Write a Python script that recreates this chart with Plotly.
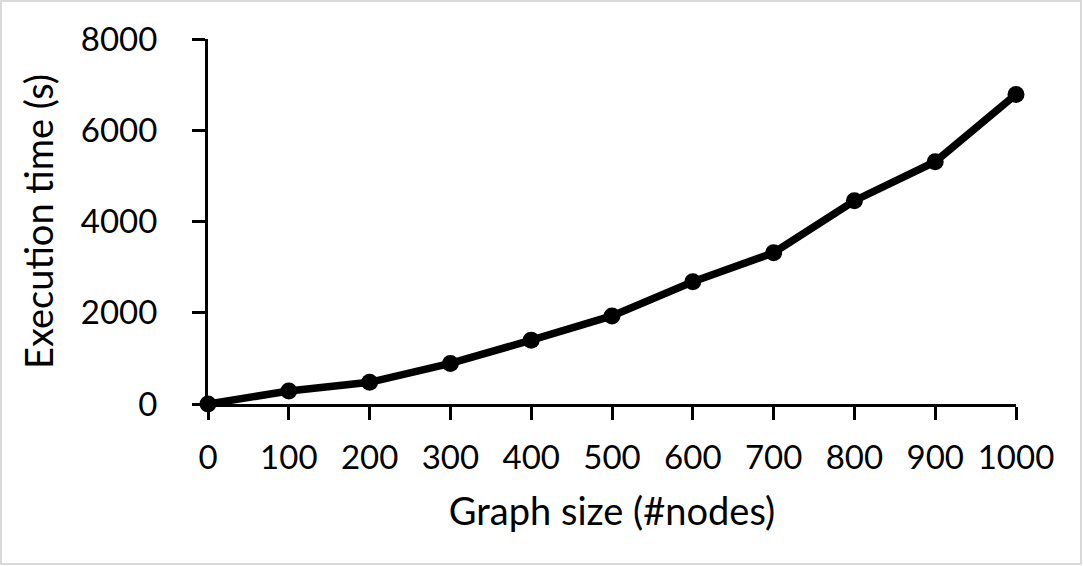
import plotly.graph_objects as go

graph_size = [0, 100, 200, 300, 400, 500, 600, 700, 800, 900, 1000]
exec_time = [0, 285, 475, 890, 1400, 1930, 2680, 3315, 4455, 5310, 6785]
x_ticks = [0, 100, 200, 300, 400, 500, 600, 700, 800, 900, 1000]
y_ticks = [0, 2000, 4000, 6000, 8000]

W, H = 1083, 566
ml, mr, mt, mb = 208, 67, 39, 162
pw, ph = W - ml - mr, H - mt - mb

fig = go.Figure()
fig.add_trace(go.Scatter(
    x=graph_size, y=exec_time, mode="lines+markers",
    line=dict(color="black", width=7.5),
    marker=dict(color="black", size=17),
    cliponaxis=False, showlegend=False,
))

font = dict(family="Lato, Open Sans, sans-serif", size=33, color="black")
tfont = dict(family="Lato, Open Sans, sans-serif", size=38, color="black")
fig.update_layout(
    width=W, height=H,
    margin=dict(l=ml, r=mr, t=mt, b=mb),
    paper_bgcolor="white", plot_bgcolor="white",
    font=font,
    xaxis=dict(
        range=[0, 1000], tickvals=x_ticks, ticks="outside", ticklen=13, tickwidth=3,
        tickcolor="black", showline=True, linewidth=3, linecolor="black",
        showgrid=False, zeroline=False, ticklabelstandoff=9, automargin=False,
        title=dict(text="Graph size (#nodes)", font=tfont, standoff=24),
    ),
    yaxis=dict(
        range=[0, 8000], tickvals=y_ticks, ticks="outside", ticklen=13, tickwidth=3,
        tickcolor="black", showline=True, linewidth=3, linecolor="black",
        showgrid=False, zeroline=False, ticklabelstandoff=28, automargin=False,
        title=dict(text="Execution time (s)", font=tfont, standoff=16),
    ),
    shapes=[dict(
        type="rect", xref="paper", yref="paper",
        x0=-(ml - 1) / pw, x1=1 + (mr - 2) / pw,
        y0=-(mb - 2) / ph, y1=1 + (mt - 1) / ph,
        line=dict(color="#d9d9d9", width=2), fillcolor="rgba(0,0,0,0)",
    )],
)

fig.write_html(
    "out.html",
    config={"displayModeBar": False},
    post_script="document.body.style.margin='0';document.body.style.overflow='hidden';",
)
